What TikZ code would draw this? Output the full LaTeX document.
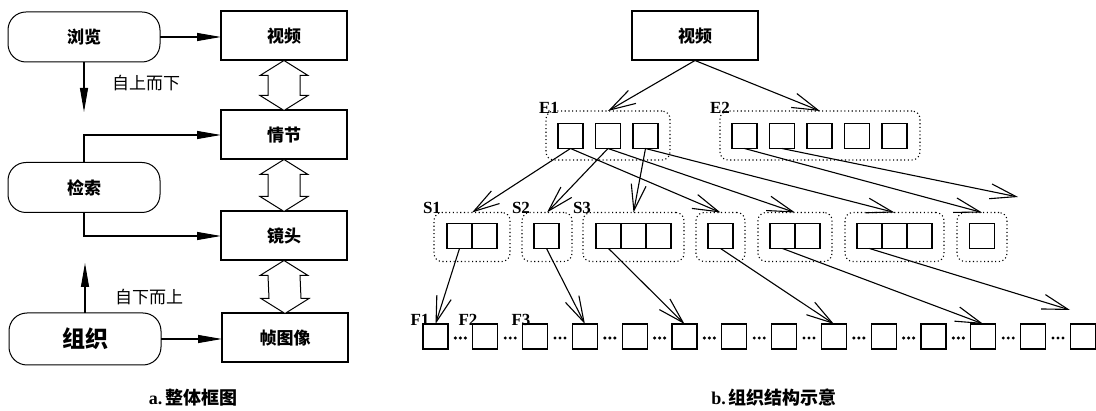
\documentclass[tikz,border=0pt]{standalone}
\usepackage{fontspec}
\setmainfont{Liberation Serif}
\newfontfamily\cjk{Noto Sans CJK SC}
\usetikzlibrary{arrows.meta,calc}
\begin{document}
\begin{tikzpicture}[x=1pt,y=-1pt,
  every node/.style={inner sep=0pt, outer sep=0pt},
  cjkb/.style={font=\cjk\bfseries\fontsize{17}{17}\selectfont},
  rbox/.style={draw, rounded corners=18pt, line width=1pt, minimum width=152pt, minimum height=50pt, cjkb},
  tbox/.style={draw, line width=2pt, minimum width=126pt, minimum height=49pt, cjkb},
  sq/.style={draw, line width=1.1pt, minimum size=25pt},
  grp/.style={draw, line width=1.1pt, dash pattern=on 1.1pt off 2.6pt, rounded corners=8pt, minimum height=49pt},
  lbl/.style={font=\bfseries\fontsize{17}{17}\selectfont},
  note/.style={font=\cjk\fontsize{17}{17}\selectfont},
  tri/.style={line width=1.1pt, -{Triangle[length=24pt,width=8pt]}},
  barb/.style={line width=1.1pt, -{Straight Barb[length=26pt,width=15pt,line width=1.1pt]}},
  dbl/.style={line width=1pt, fill=white}
]
\useasboundingbox (0,0) rectangle (1096,411);

% ---------- left panel ----------
\node[rbox] (browse) at (84,37) {浏览};
\node[rbox] (search) at (84,187.5) {检索};
\node[rbox, minimum height=52pt, font=\cjk\bfseries\fontsize{23}{23}\selectfont] (org) at (85,339) {组织};

\node[tbox] (vidL) at (284,36) {视频};
\node[tbox] (plot) at (284,135) {情节};
\node[tbox] (shot) at (284,236) {镜头};
\node[tbox] (frame) at (285,338) {帧图像};

\coordinate (downend) at (84,112);
\coordinate (upend) at (85,263);
\draw[tri] (browse.east) -- (browse.east -| vidL.west);
\draw[tri] (browse.south) -- (downend);
\draw[tri] (search.north) |- (plot.west);
\draw[tri] (search.south) |- (shot.west);
\draw[tri] (org.north) -- (upend);
\draw[tri] (org.east) -- (org.east -| frame.west);

\node[note] (topdown) at (146,83) {自上而下};
\node[note] (bottomup) at (149,297) {自下而上};

\newcommand\dblarr[2]{%
  \draw[dbl] (#1.south) -- ($(#1.south)+(24,15)$) -- ($(#1.south)+(16,15)$)
    -- ($(#2.north)+(16,-15)$) -- ($(#2.north)+(24,-15)$) -- (#2.north)
    -- ($(#2.north)+(-24,-15)$) -- ($(#2.north)+(-16,-15)$)
    -- ($(#1.south)+(-16,15)$) -- ($(#1.south)+(-24,15)$) -- cycle;}
\dblarr{vidL}{plot}
\dblarr{plot}{shot}
\dblarr{shot}{frame}

\node[font=\fontsize{18}{18}\selectfont] (capa) at (193,398) {\textbf{a.}\,{\cjk\bfseries 整体框图}};

% ---------- right panel ----------
\node[tbox] (vidR) at (695,36) {视频};

% episode groups
\node[grp, minimum width=124pt] (E1) at (608,135.5) {};
\node[grp, minimum width=200pt] (E2) at (820,135.5) {};
\foreach \i/\x in {1/570.5,2/608,3/645.5} \node[sq] (e1\i) at (\x,136) {};
\foreach \i/\x in {1/744.5,2/782,3/819.5,4/857,5/894.5} \node[sq] (e2\i) at (\x,136) {};
\node[lbl] (lE1) at (549,108) {E1};
\node[lbl] (lE2) at (720,108) {E2};

% shot groups
\node[grp, minimum width=76pt] (S1) at (472,237) {};
\node[grp, minimum width=50pt] (S2) at (547,237) {};
\node[grp, minimum width=101pt] (S3) at (633.5,237) {};
\node[grp, minimum width=49pt] (S4) at (720.5,237) {};
\node[grp, minimum width=74pt] (S5) at (795,237) {};
\node[grp, minimum width=99pt] (S6) at (894.5,237) {};
\node[grp, minimum width=50pt] (S7) at (982,237) {};
\foreach \i/\x in {1/459.5,2/484.5} \node[sq] (s1\i) at (\x,236) {};
\node[sq] (s21) at (546.5,236) {};
\foreach \i/\x in {1/608.5,2/633.5,3/658.5} \node[sq] (s3\i) at (\x,236) {};
\node[sq] (s41) at (720.5,236) {};
\foreach \i/\x in {1/782.5,2/807.5} \node[sq] (s5\i) at (\x,236) {};
\foreach \i/\x in {1/869.5,2/894.5,3/919.5} \node[sq] (s6\i) at (\x,236) {};
\node[sq] (s71) at (982,236) {};
\node[lbl] (lS1) at (432,208) {S1};
\node[lbl] (lS2) at (521,208) {S2};
\node[lbl] (lS3) at (582,208) {S3};

% frames
\foreach \i in {1,...,14} \node[sq] (F\i) at ({435.5+49.8*(\i-1)},336.5) {};
\foreach \i in {1,...,13} {
  \foreach \d in {-5,0,5} \fill ({435.5+49.8*(\i-1)+24.9+\d},338) circle (1.7pt);
}
\node[lbl] (lF1) at (420,320) {F1};
\node[lbl] (lF2) at (468,320) {F2};
\node[lbl] (lF3) at (521,320) {F3};

% connectors
\coordinate (moreE) at (1018,197);
\coordinate (moreS) at (1070,310);
\draw[barb] (vidR.south) -- (E1.north);
\draw[barb] (vidR.south) -- (E2.north);
\draw[barb] (e11.south) -- (S1.north);
\draw[barb] (e11.south) -- (S4.north);
\draw[barb] (e12.south) -- (S2.north);
\draw[barb] (e12.south) -- (S5.north);
\draw[barb] (e13.south) -- (S3.north);
\draw[barb] (e13.south) -- (S6.north);
\draw[barb] (e21.south) -- (S7.north);
\draw[barb] (e22.south) -- (moreE);

\draw[barb] (s11.south) -- (F1.north);
\draw[barb] (s21.south) -- (F4.north);
\draw[barb] (s31.south) -- (F6.north);
\draw[barb] (s41.south) -- (F9.north);
\draw[barb] (s51.south) -- (F12.north);
\draw[barb] (s61.south) -- (moreS);

\node[font=\fontsize{18}{18}\selectfont] (capb) at (774,398) {\textbf{b.}\,{\cjk\bfseries 组织结构示意}};
\end{tikzpicture}
\end{document}
